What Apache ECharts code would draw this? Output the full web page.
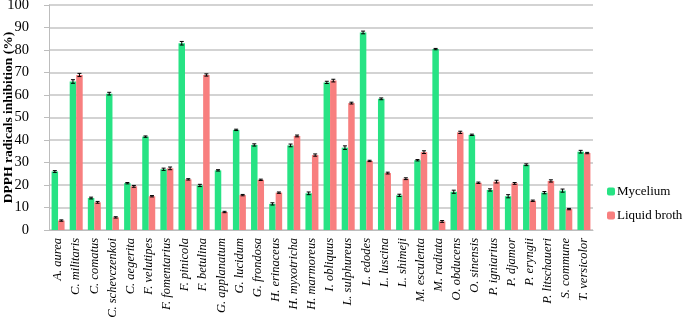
<!DOCTYPE html>
<html>
<head>
<meta charset="utf-8">
<script src="https://cdn.jsdelivr.net/npm/echarts@6/dist/echarts.min.js"></script>
<style>
  html, body { margin: 0; padding: 0; background: #fff; }
  #chart { width: 685px; height: 325px; }
</style>
</head>
<body>
<div id="chart"></div>
<script>
const species = [
  'A. aurea', 'C. militaris', 'C. comatus', 'C. schevczenkoi', 'C. aegerita',
  'F. velutipes', 'F. fomentarius', 'F. pinicola', 'F. betulina', 'G. applanatum',
  'G. lucidum', 'G. frondosa', 'H. erinaceus', 'H. myxotricha', 'H. marmoreus',
  'I. obliquus', 'L. sulphureus', 'L. edodes', 'L. luscina', 'L. shimeji',
  'M. esculenta', 'M. radiata', 'O. obducens', 'O. sinensis', 'P. igniarius',
  'P. djamor', 'P. eryngii', 'P. litschaueri', 'S. commune', 'T. versicolor'
];
const mycelium = [
  26, 66, 14.2, 60.6, 20.8, 41.5, 27, 83, 19.8, 26.5,
  44.5, 37.8, 11.6, 37.6, 16.3, 65.6, 36.6, 87.8, 58.3, 15.4,
  31, 80.4, 17, 42.3, 17.8, 15, 29, 16.6, 17.5, 34.8
];
const liquidBroth = [
  4.2, 68.9, 12.3, 5.6, 19.4, 15, 27.4, 22.5, 68.9, 8,
  15.5, 22.3, 16.6, 41.8, 33.3, 66.4, 56.4, 30.7, 25.3, 22.8,
  34.6, 3.8, 43.4, 21, 21.5, 20.7, 13, 21.8, 9.3, 34.2
];
const myceliumErr = [
  0.4, 0.8, 0.4, 0.6, 0.3, 0.3, 0.5, 0.8, 0.5, 0.3,
  0.3, 0.5, 0.5, 0.6, 0.6, 0.5, 0.8, 0.6, 0.4, 0.5,
  0.3, 0.3, 0.7, 0.3, 0.5, 0.7, 0.4, 0.5, 0.7, 0.6
];
const liquidErr = [
  0.3, 0.7, 0.4, 0.3, 0.4, 0.3, 0.6, 0.3, 0.5, 0.3,
  0.3, 0.3, 0.3, 0.4, 0.5, 0.6, 0.4, 0.3, 0.4, 0.4,
  0.6, 0.4, 0.5, 0.3, 0.6, 0.4, 0.3, 0.5, 0.3, 0.3
];
const yTicks = [0, 10, 20, 30, 40, 50, 60, 70, 80, 90, 100];

const BAR_W = 6.5;
const serif = '"Liberation Serif", "Times New Roman", serif';

function errorSeries(values, errs, offset) {
  return {
    type: 'custom',
    silent: true,
    z: 5,
    data: values.map((v, i) => [i, v, errs[i]]),
    renderItem: function (params, api) {
      const i = api.value(0), v = api.value(1), e = api.value(2);
      const hi = api.coord([i, v + e]);
      const lo = api.coord([i, v - e]);
      const x = hi[0] + offset;
      const cap = 2;
      const style = { stroke: '#000', lineWidth: 1 };
      return {
        type: 'group',
        children: [
          { type: 'line', shape: { x1: x, y1: hi[1], x2: x, y2: lo[1] }, style },
          { type: 'line', shape: { x1: x - cap, y1: hi[1], x2: x + cap, y2: hi[1] }, style },
          { type: 'line', shape: { x1: x - cap, y1: lo[1], x2: x + cap, y2: lo[1] }, style }
        ]
      };
    }
  };
}

const chart = echarts.init(document.getElementById('chart'));
chart.setOption({
  animation: false,
  grid: { left: 49, right: 92, top: 5, bottom: 95, outerBoundsMode: 'none' },
  legend: {
    orient: 'vertical',
    left: 602,
    top: 180,
    itemWidth: 8,
    itemHeight: 8,
    itemGap: 11,
    textStyle: { fontFamily: serif, fontSize: 13, color: '#000', padding: [0, 0, 0, -3] },
    data: ['Mycelium', 'Liquid broth']
  },
  xAxis: {
    type: 'category',
    data: species,
    axisLine: { lineStyle: { color: '#bdbdbd', width: 1 } },
    axisTick: { show: false },
    axisLabel: {
      interval: 0,
      rotate: 90,
      fontFamily: serif,
      fontStyle: 'italic',
      fontSize: 12.5,
      color: '#000',
      margin: 8
    }
  },
  yAxis: {
    type: 'value',
    min: yTicks[0],
    max: yTicks[yTicks.length - 1],
    interval: 10,
    name: 'DPPH radicals inhibition (%)',
    nameLocation: 'middle',
    nameMoveOverlap: false,
    nameGap: 33,
    nameTextStyle: { fontFamily: serif, fontWeight: 'bold', fontSize: 13.5, color: '#000' },
    axisLine: { show: true, lineStyle: { color: '#bdbdbd' } },
    axisTick: { show: true, length: 5, lineStyle: { color: '#bdbdbd' } },
    axisLabel: { fontFamily: serif, fontSize: 14.5, color: '#000', margin: 20 },
    splitLine: { lineStyle: { color: '#c4c4c4', width: 1.5 } }
  },
  series: [
    {
      name: 'Mycelium',
      type: 'bar',
      data: mycelium,
      barWidth: BAR_W,
      barGap: '0%',
      itemStyle: { color: '#27e384' }
    },
    {
      name: 'Liquid broth',
      type: 'bar',
      data: liquidBroth,
      barWidth: BAR_W,
      barGap: '0%',
      itemStyle: { color: '#f87f7f' }
    },
    errorSeries(mycelium, myceliumErr, -BAR_W / 2),
    errorSeries(liquidBroth, liquidErr, BAR_W / 2)
  ]
});
</script>
</body>
</html>
